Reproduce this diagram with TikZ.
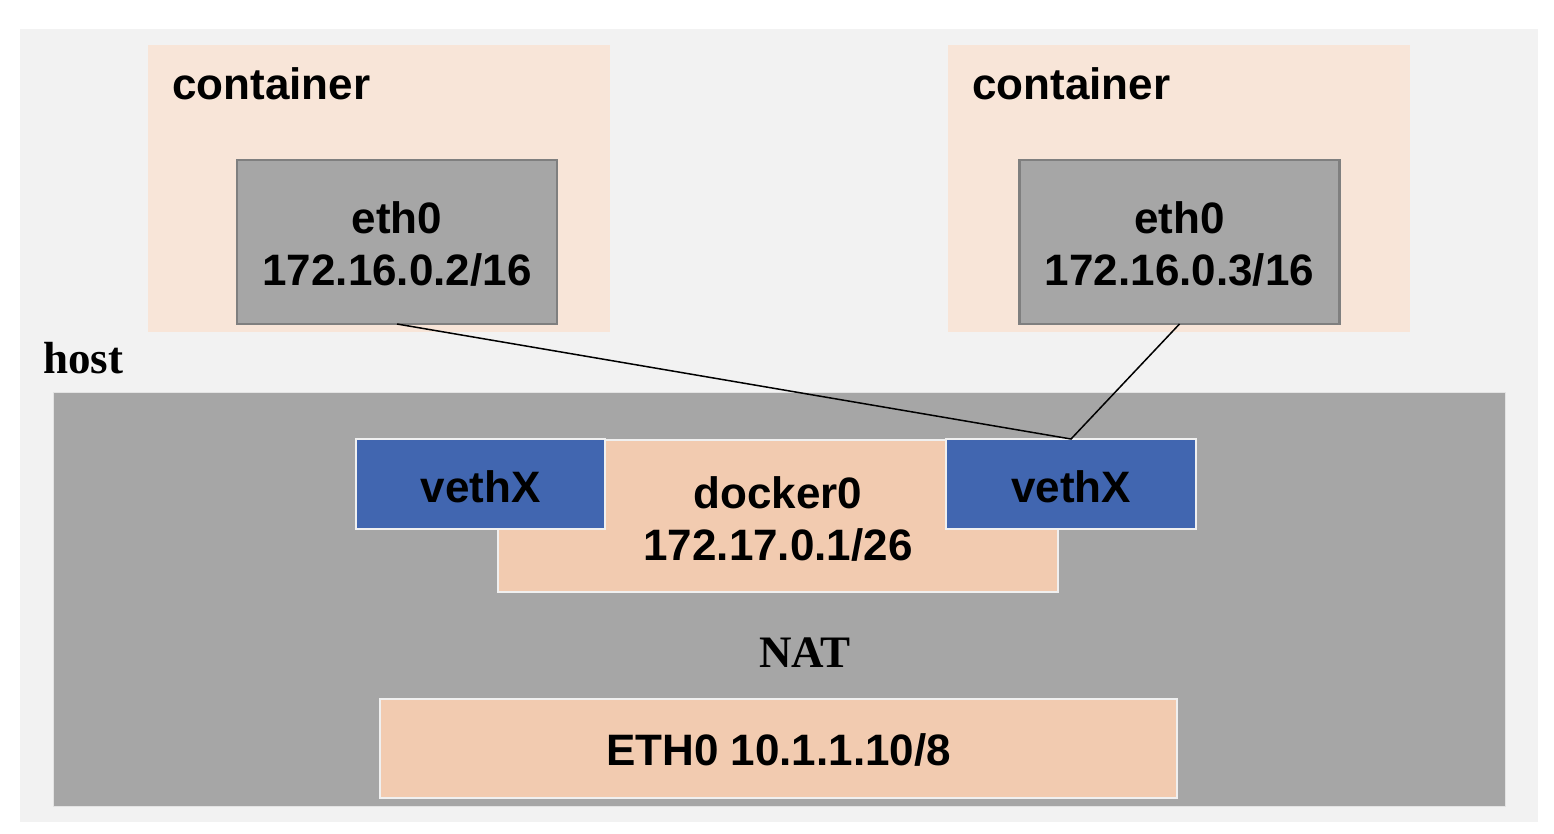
\documentclass[tikz,border=0pt]{standalone}
\usepackage{fontspec}
\setmainfont{Liberation Serif}
\newfontfamily\arialf{Liberation Sans}
\definecolor{bgc}{HTML}{F2F2F2}
\definecolor{contc}{HTML}{F8E5D8}
\definecolor{grayc}{HTML}{A6A6A6}
\definecolor{grayb}{HTML}{7F7F7F}
\definecolor{peachc}{HTML}{F2CBB0}
\definecolor{bluec}{HTML}{4166B0}
\definecolor{edgec}{HTML}{F0F0F0}
\tikzset{
  box/.style={rectangle, inner sep=0pt, outer sep=0pt},
  contbox/.style={box, fill=contc},
  ethbox/.style={box, fill=grayc, draw=grayb, line width=2.5pt},
  hostbox/.style={box, fill=grayc, draw=bgc!80!grayc, line width=1pt},
  peachbox/.style={box, fill=peachc, draw=edgec, line width=2.5pt},
  vethbox/.style={box, fill=bluec, draw=edgec, line width=2.5pt},
  sanslbl/.style={font=\arialf\bfseries\fontsize{44}{52}\selectfont, align=center, text=black},
  seriflbl/.style={font=\bfseries\fontsize{45}{52}\selectfont, text=black},
  link/.style={draw=black, line width=1.5pt},
}
\begin{document}
\begin{tikzpicture}[x=1pt,y=-1pt]
\useasboundingbox (0,0) rectangle (1554,834);
\fill[bgc] (20,29) rectangle (1538,822);
% containers
\node[contbox, minimum width=462pt, minimum height=287pt] (c1) at (379,188.5) {};
\node[contbox, minimum width=462pt, minimum height=287pt] (c2) at (1179,188.5) {};
\node[sanslbl, anchor=base west, inner sep=0pt] (c1t) at (172,100) {container};
\node[sanslbl, anchor=base west, inner sep=0pt] (c2t) at (972,100) {container};
\node[ethbox, minimum width=320pt, minimum height=164pt] (e1) at (397,242) {};
\node[ethbox, minimum width=320pt, minimum height=164pt] (e2) at (1179.5,242) {};
\node[sanslbl] (e1t) at (397,244) {eth0\\172.16.0.2/16};
\node[sanslbl] (e2t) at (1179.5,244) {eth0\\172.16.0.3/16};
% host
\node[seriflbl, anchor=base west, inner sep=0pt] (hostt) at (43,373) {host};
\node[hostbox, minimum width=1452pt, minimum height=414pt] (host) at (779,599) {};
\node[peachbox, minimum width=560pt, minimum height=152pt] (d0) at (778,516) {};
\node[sanslbl] (d0t) at (778,519) {docker0\\172.17.0.1/26};
\node[vethbox, minimum width=249pt, minimum height=90pt] (v1) at (480.5,484) {};
\node[vethbox, minimum width=250pt, minimum height=90pt] (v2) at (1071,484) {};
\node[sanslbl] (v1t) at (480.5,487) {vethX};
\node[sanslbl] (v2t) at (1071,487) {vethX};
\node[seriflbl, anchor=base, inner sep=0pt] (nat) at (805,667) {NAT};
\node[peachbox, minimum width=797pt, minimum height=99pt] (eth) at (778.5,748.5) {};
\node[sanslbl] (etht) at (778.5,750) {ETH0 10.1.1.10/8};
% links
\draw[link] (e1.south) -- (v2.north) -- (e2.south);
\end{tikzpicture}
\end{document}
